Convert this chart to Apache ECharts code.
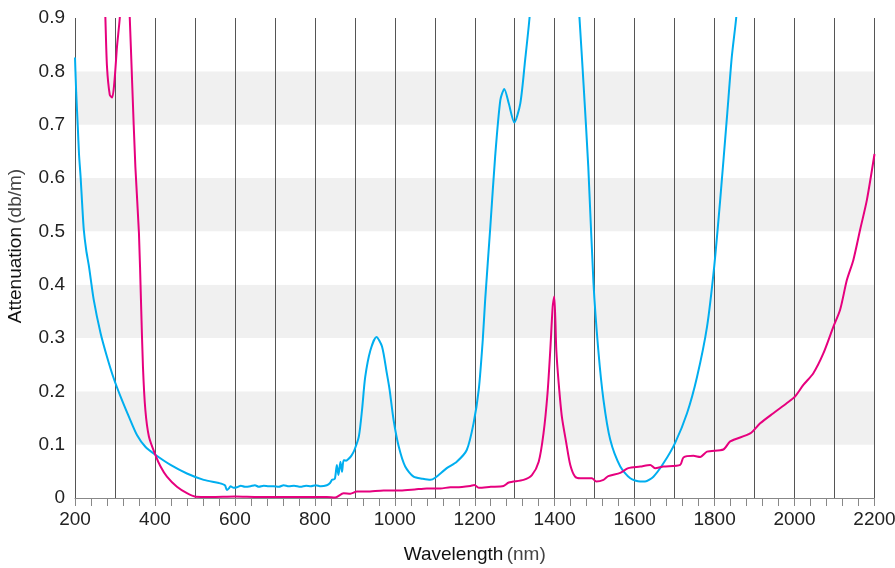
<!DOCTYPE html>
<html>
<head>
<meta charset="utf-8">
<style>html,body{margin:0;padding:0;background:#fff}#c{width:895px;height:568px}</style>
<script src="https://cdn.jsdelivr.net/npm/echarts@6/dist/echarts.min.js"></script>
</head>
<body>
<div id="c"></div>
<script>
// x tick labels / axis ranges
const xTicks = [200, 400, 600, 800, 1000, 1200, 1400, 1600, 1800, 2000, 2200];
const yTicks = [0, 0.1, 0.2, 0.3, 0.4, 0.5, 0.6, 0.7, 0.8, 0.9];

// Cyan series: wavelength (nm)
const cyanX = [200,203,207,210,214,218,222,228,235,247,264,280,297,314,335,355,376,401,439,480,522,560,575,580,585,589,597,605,615,625,639,650,660,672,685,697,710,722,735,748,764,778,790,802,815,830,838,843,850,855,859,864,868,872,878,884,892,899,910,918,926,939,954,968,980,987,997,1010,1026,1047,1070,1089,1101,1130,1155,1180,1197,1210,1220,1226,1239,1251,1264,1274,1285,1299,1314,1326,1337,1345,1455,1462,1472,1484,1497,1509,1522,1539,1564,1589,1614,1626,1647,1672,1701,1731,1756,1781,1799,1814,1831,1843,1854,1860];
// Cyan series: attenuation (db/m)
const cyanY = [0.826,0.76,0.696,0.645,0.602,0.55,0.503,0.465,0.434,0.371,0.309,0.265,0.224,0.190,0.152,0.118,0.096,0.081,0.062,0.046,0.034,0.028,0.024,0.015,0.018,0.022,0.019,0.020,0.023,0.021,0.022,0.024,0.021,0.023,0.022,0.022,0.021,0.024,0.022,0.023,0.021,0.023,0.022,0.024,0.022,0.024,0.028,0.034,0.036,0.062,0.043,0.068,0.049,0.071,0.070,0.073,0.080,0.090,0.115,0.165,0.227,0.277,0.302,0.284,0.234,0.203,0.146,0.096,0.059,0.040,0.036,0.034,0.038,0.056,0.068,0.090,0.140,0.203,0.296,0.371,0.509,0.640,0.746,0.767,0.740,0.704,0.740,0.821,0.900,0.980,0.980,0.900,0.778,0.621,0.403,0.278,0.184,0.109,0.059,0.037,0.031,0.031,0.040,0.065,0.103,0.159,0.227,0.321,0.434,0.559,0.715,0.827,0.900,0.960];

// Magenta series: wavelength (nm)
const magX = [272,276,280,287,293,299,305,312,316,333,337,343,351,360,365,370,376,385,401,414,430,455,480,501,540,600,660,720,780,830,851,872,889,905,930,972,1014,1050,1080,1114,1139,1155,1189,1199,1211,1240,1272,1285,1322,1343,1360,1372,1382,1389,1395,1399,1404,1410,1418,1429,1439,1451,1464,1493,1504,1522,1534,1564,1584,1614,1639,1651,1672,1714,1722,1747,1764,1781,1822,1839,1889,1914,1947,1981,2001,2022,2047,2072,2097,2114,2131,2147,2164,2181,2200];
// Magenta series: attenuation (db/m)
const magY = [0.980,0.900,0.809,0.756,0.751,0.784,0.846,0.900,0.960,0.960,0.900,0.778,0.621,0.496,0.371,0.246,0.165,0.115,0.081,0.059,0.040,0.021,0.009,0.0025,0.002,0.003,0.002,0.002,0.002,0.002,0.001,0.009,0.008,0.012,0.012,0.014,0.014,0.016,0.018,0.018,0.020,0.020,0.0225,0.0244,0.019,0.021,0.0225,0.029,0.034,0.043,0.068,0.121,0.196,0.278,0.359,0.378,0.278,0.215,0.152,0.103,0.062,0.040,0.037,0.037,0.031,0.034,0.041,0.047,0.056,0.059,0.062,0.056,0.059,0.062,0.076,0.079,0.077,0.087,0.091,0.106,0.121,0.140,0.159,0.178,0.190,0.212,0.234,0.271,0.321,0.353,0.409,0.446,0.503,0.559,0.645];

const cyanData = cyanX.map((x, i) => [x, cyanY[i]]);
const magData = magX.map((x, i) => [x, magY[i]]);

const FONT = '"Liberation Sans Narrow", "Liberation Sans", Arial, sans-serif';

const chart = echarts.init(document.getElementById('c'), null, {renderer: 'canvas'});
chart.setOption({
  animation: false,
  backgroundColor: '#fff',
  grid: {left: 75, right: 20.5, top: 18, bottom: 70, containLabel: false, outerBoundsMode: 'none'},
  xAxis: [{
    type: 'value', min: xTicks[0], max: xTicks[xTicks.length - 1], interval: 200,
    name: '{a|Wavelength} {b|(nm)}', nameLocation: 'middle', nameGap: 47,
    nameTextStyle: {rich: {a: {fontFamily: FONT, fontSize: 19, color: '#111'}, b: {fontFamily: FONT, fontSize: 19, color: '#444'}}},
    axisLine: {show: true, lineStyle: {color: '#888', width: 1}},
    axisTick: {show: true, length: 8, lineStyle: {color: '#888'}},
    minorTick: {show: true, splitNumber: 5, length: 8, lineStyle: {color: '#888'}},
    axisLabel: {fontFamily: FONT, fontSize: 19, color: '#222', margin: 12, formatter: v => String(v)},
    splitLine: {show: false}
  }, {
    type: 'value', min: 200, max: 2200, interval: 100, position: 'bottom',
    axisLine: {show: false}, axisTick: {show: false}, axisLabel: {show: false},
    splitLine: {show: true, lineStyle: {color: '#555', width: 1}}
  }],
  yAxis: {
    type: 'value', min: yTicks[0], max: yTicks[yTicks.length - 1], interval: 0.1,
    name: '{a|Attenuation} {b|(db/m)}', nameLocation: 'middle', nameGap: 50, nameRotate: 90,
    nameTextStyle: {padding: [0, 0, 0, 24], rich: {a: {fontFamily: FONT, fontSize: 19, color: '#111'}, b: {fontFamily: FONT, fontSize: 19, color: '#444'}}},
    axisLine: {show: false}, axisTick: {show: false},
    axisLabel: {fontFamily: FONT, fontSize: 19, color: '#222', margin: 10, formatter: v => String(v)},
    splitLine: {show: false},
    splitArea: {show: true, areaStyle: {color: ['#ffffff', '#f0f0f0']}}
  },
  series: [{
    type: 'line', data: cyanData, showSymbol: false, smooth: 0.25, clip: true,
    lineStyle: {color: '#00aeef', width: 2}, z: 3
  }, {
    type: 'line', data: magData, showSymbol: false, smooth: 0.25, clip: true,
    lineStyle: {color: '#e6007e', width: 2}, z: 4
  }]
});
</script>
</body>
</html>
